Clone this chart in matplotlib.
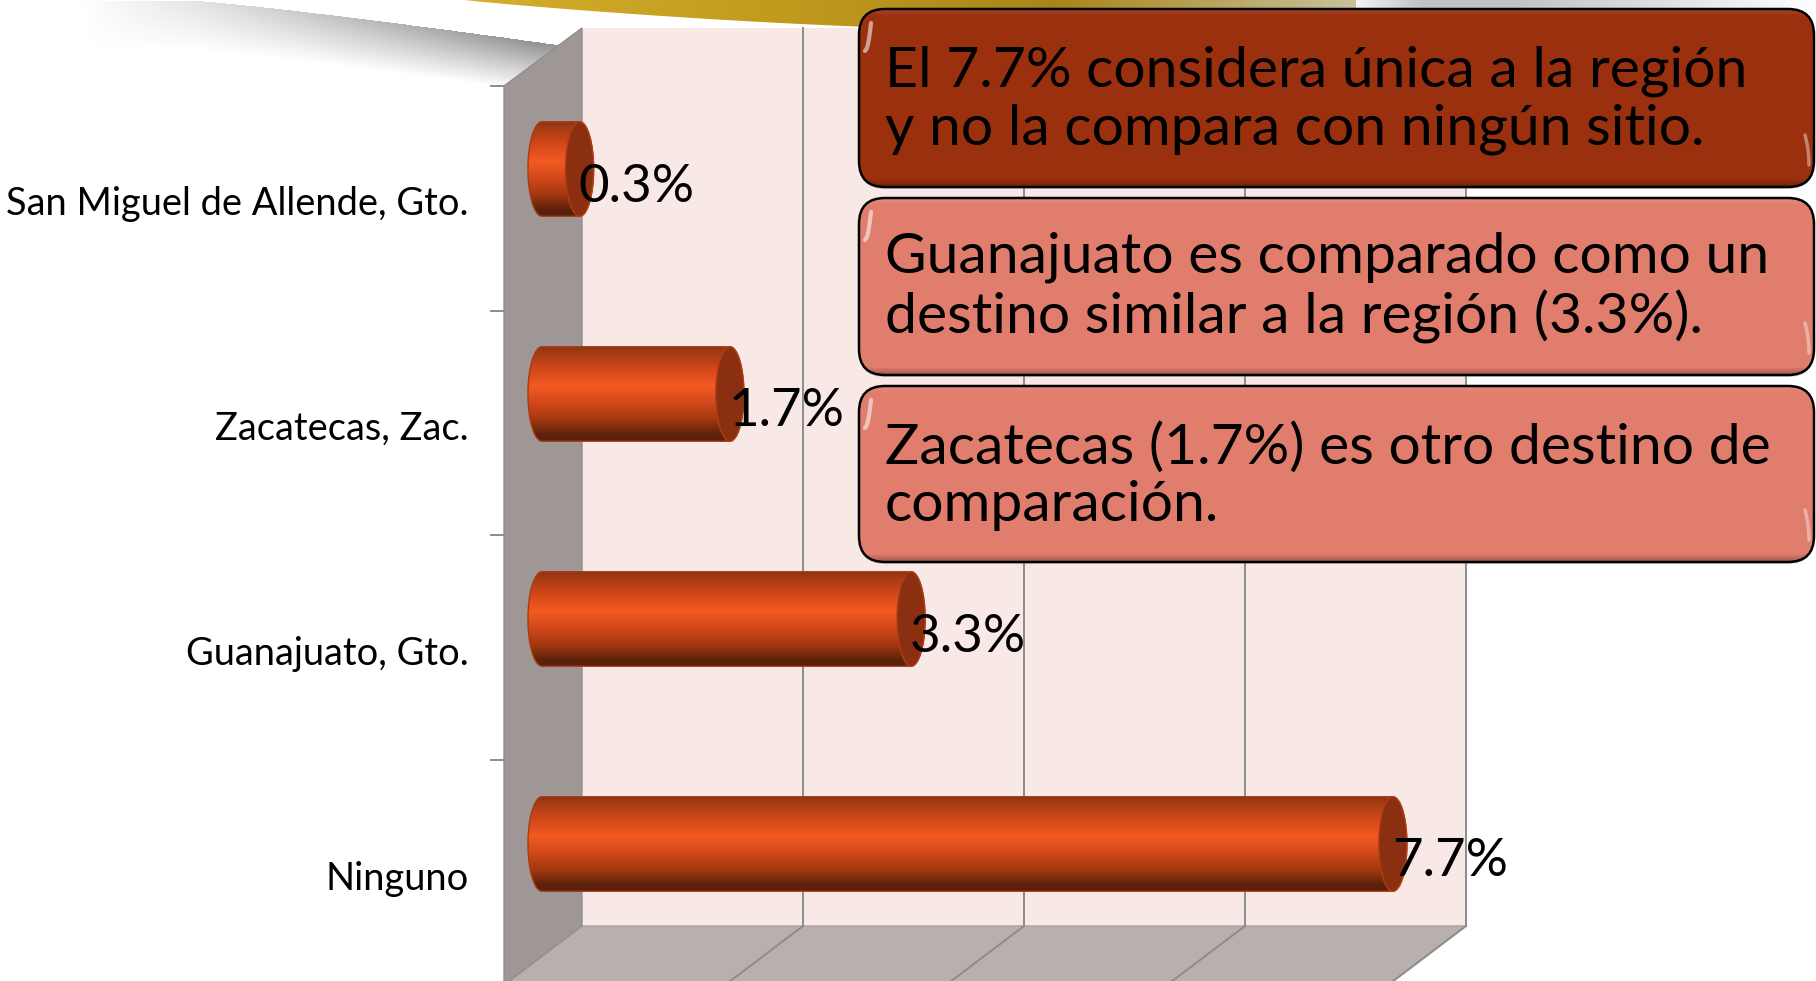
import numpy as np
import matplotlib
matplotlib.use('Agg')
import matplotlib.pyplot as plt
from matplotlib.patches import FancyBboxPatch, Polygon, Ellipse, PathPatch
from matplotlib.path import Path
from matplotlib.colors import LinearSegmentedColormap

categories = ['San Miguel de Allende, Gto.', 'Zacatecas, Zac.', 'Guanajuato, Gto.', 'Ninguno']
values = [0.34, 1.7, 3.34, 7.7]
value_labels = ['0.3%', '1.7%', '3.3%', '7.7%']
grid_values = [0, 2, 4, 6, 8]
callouts = ['El 7.7% considera única a la región\ny no la compara con ningún sitio.',
            'Guanajuato es comparado como un\ndestino similar a la región (3.3%).',
            'Zacatecas (1.7%) es otro destino de\ncomparación.']
callout_colors = ['#9a300e', '#e07d6d', '#e07d6d']

W, H = 1816, 981
FONT = ['Lato', 'DejaVu Sans']
fig = plt.figure(figsize=(W / 100, H / 100), dpi=100, facecolor='white')

# background axes works in pixels
bg = fig.add_axes([0, 0, 1, 1])
bg.set_xlim(0, W)
bg.set_ylim(H, 0)
bg.axis('off')

# grey shadow under the white arc, top left and top right
xx, yy = np.meshgrid(np.arange(0, W, 2), np.arange(0, 110, 1))
arc = 45 * ((xx - 190) / 370.0) ** 1.15
arc = np.where(xx > 190, arc, 0)
d = yy - arc
shadow = np.clip(1 - d / 50.0, 0, 1) * (d > 0) * np.clip((xx - 80) / 450.0, 0, 1) * (xx < 600)
img = np.zeros(xx.shape + (4,))
img[..., :3] = 0.55
img[..., 3] = shadow * 0.95
bg.imshow(img, extent=(0, W, 110, 0), aspect='auto', zorder=1)
xr, yr = np.meshgrid(np.arange(1340, W, 2), np.arange(0, 14))
img2 = np.zeros(xr.shape + (4,))
img2[..., :3] = 0.66
img2[..., 3] = np.clip((xr - 1340) / 80.0, 0, 1) * np.clip((W - xr) / 300.0, 0, 1) * 0.7
bg.imshow(img2, extent=(1340, W, 14, 0), aspect='auto', zorder=1)

# gold crescent
gx = np.linspace(465, 1356, 60)
gy = 31 * np.sin(np.pi * (gx - 465) / (1356 - 465) * 0.72) ** 0.9
gold = LinearSegmentedColormap.from_list('g', ['#d4ae2c', '#c39c1e', '#a98519', '#c8c09a'])
g = bg.imshow(np.linspace(0, 1, 200)[None, :], cmap=gold, extent=(465, 1356, 32, 0), aspect='auto', zorder=2)
gp = bg.add_patch(Polygon(np.r_[[[465, 0]], np.c_[gx, gy], [[1356, 0]]], fc='none', ec='none'))
g.set_clip_path(gp)

# 3D frame of the chart
x_back = [582 + 110.5 * v for v in grid_values]
depth = 78
bg.add_patch(Polygon([(582, 28), (x_back[-1], 28), (x_back[-1], 926), (582, 926)], fc='#f8e9e6', ec='none', zorder=3))
bg.add_patch(Polygon([(582, 926), (x_back[-1], 926), (x_back[-1] - depth, 985), (504, 985)],
                     fc='#b9b0ad', ec='#a8a2a0', lw=1, zorder=3))
bg.add_patch(Polygon([(504, 86), (582, 28), (582, 926), (504, 985)], fc='#9f9795', ec='#8f8f8f', lw=1, zorder=3))
for xb in x_back[1:]:
    bg.plot([xb, xb], [28, 926], color='#8c8c8c', lw=1.4, zorder=4)
    bg.plot([xb, xb - depth], [926, 985], color='#8c8c8c', lw=1.4, zorder=4)
for k in range(4):
    yt = 86 + 224.7 * k
    bg.plot([491, 504], [yt, yt], color='#8c8c8c', lw=1.4, zorder=4)

# callout boxes
boxes = [(859, 9, 955, 178), (859, 198, 955, 177), (859, 386, 955, 176)]
text_y = [100, 288, 476]
shade = LinearSegmentedColormap.from_list('shade', [(1, 1, 1, 0.12), (1, 1, 1, 0), (0, 0, 0, 0), (0, 0, 0, 0.28)])
for (bx, by, bw, bh), col, txt, ty in zip(boxes, callout_colors, callouts, text_y):
    bg.add_patch(FancyBboxPatch((bx + 24, by + 26), bw - 48, bh - 48, boxstyle='round,pad=24,rounding_size=26',
                                fc='#888888', ec='none', alpha=0.35, zorder=5))
    box = FancyBboxPatch((bx + 24, by + 24), bw - 48, bh - 48, boxstyle='round,pad=24,rounding_size=26',
                         fc=col, ec='none', zorder=6)
    bg.add_patch(box)
    s = bg.imshow(np.r_[np.linspace(0, 0.33, 12), np.full(120, 0.33), np.linspace(0.34, 0.66, 20),
                        np.full(120, 0.66), np.linspace(0.66, 1, 14)][:, None],
                  cmap=shade, vmin=0, vmax=1, extent=(bx, bx + bw, by + bh, by), aspect='auto', zorder=7)
    s.set_clip_path(box)
    bg.add_patch(FancyBboxPatch((bx + 24, by + 24), bw - 48, bh - 48, boxstyle='round,pad=24,rounding_size=26',
                                fc='none', ec='black', lw=1.8, zorder=8))
    hl = np.linspace(0, 1, 12)
    bg.plot(bx + 6 + 6 * hl ** 0.5, by + 42 - 28 * hl, color='white', alpha=0.55, lw=3, zorder=9,
            solid_capstyle='round')
    bg.plot(bx + bw - 5 - 4 * hl ** 2, by + bh - 22 - 30 * hl, color='white', alpha=0.4, lw=2.5, zorder=9,
            solid_capstyle='round')
    bg.text(885, ty, txt, family=FONT, fontsize=41, color='black', va='center', ha='left',
            linespacing=1.155, zorder=10)

bg.set_xlim(0, W)
bg.set_ylim(H, 0)

# data axes: 0% at x=542 px, 8% at 1426 px, one category every 225 px
x0_px = 542 - 0.5 * 110.5
ax = fig.add_axes([x0_px / W, 1 - 956.5 / H, (1426 - x0_px) / W, 900 / H])
ax.patch.set_alpha(0)
ax.axis('off')

bar_cmap = LinearSegmentedColormap.from_list('bar', [
    (0.0, '#8a3212'), (0.08, '#a83c14'), (0.25, '#d4481a'), (0.42, '#f25a22'),
    (0.6, '#d2481a'), (0.78, '#a2380f'), (0.93, '#5e220a'), (1.0, '#57200c')])
bar_h = 0.42
cap_w = 0.127
t = np.linspace(0, np.pi, 40)
for i, (v, lab) in enumerate(zip(values, value_labels)):
    top, bot = i - bar_h / 2, i + bar_h / 2
    left = np.c_[-cap_w * np.sin(t), i - bar_h / 2 * np.cos(t)]
    right = np.c_[v + cap_w * np.sin(t), i + bar_h / 2 * np.cos(t)]
    outline = Path(np.r_[left, right, left[:1]])
    im = ax.imshow(np.linspace(0, 1, 256)[:, None], cmap=bar_cmap, aspect='auto', origin='upper',
                   extent=(-cap_w, v + cap_w, bot, top), zorder=2)
    pp = PathPatch(outline, fc='none', ec='#a83a14', lw=1, zorder=3)
    ax.add_patch(pp)
    im.set_clip_path(pp)
    ax.add_patch(Ellipse((v, i), 2 * cap_w, bar_h, fc='#8a3010', ec='#b03c14', lw=1, zorder=4))
    ax.annotate(lab, xy=(v + cap_w, i), xytext=(-15, -18), textcoords='offset pixels', family=FONT,
                fontsize=38, ha='left', va='center', color='black', zorder=5, annotation_clip=False)
    ax.annotate(categories[i], xy=(0, i), xytext=(469 - 542, -35), textcoords='offset pixels', family=FONT,
                fontsize=27.4, ha='right', va='center', color='black', annotation_clip=False)
ax.set_xlim(-0.5, 8)
ax.set_ylim(3.5, -0.5)

fig.savefig('out.png', dpi=100)
